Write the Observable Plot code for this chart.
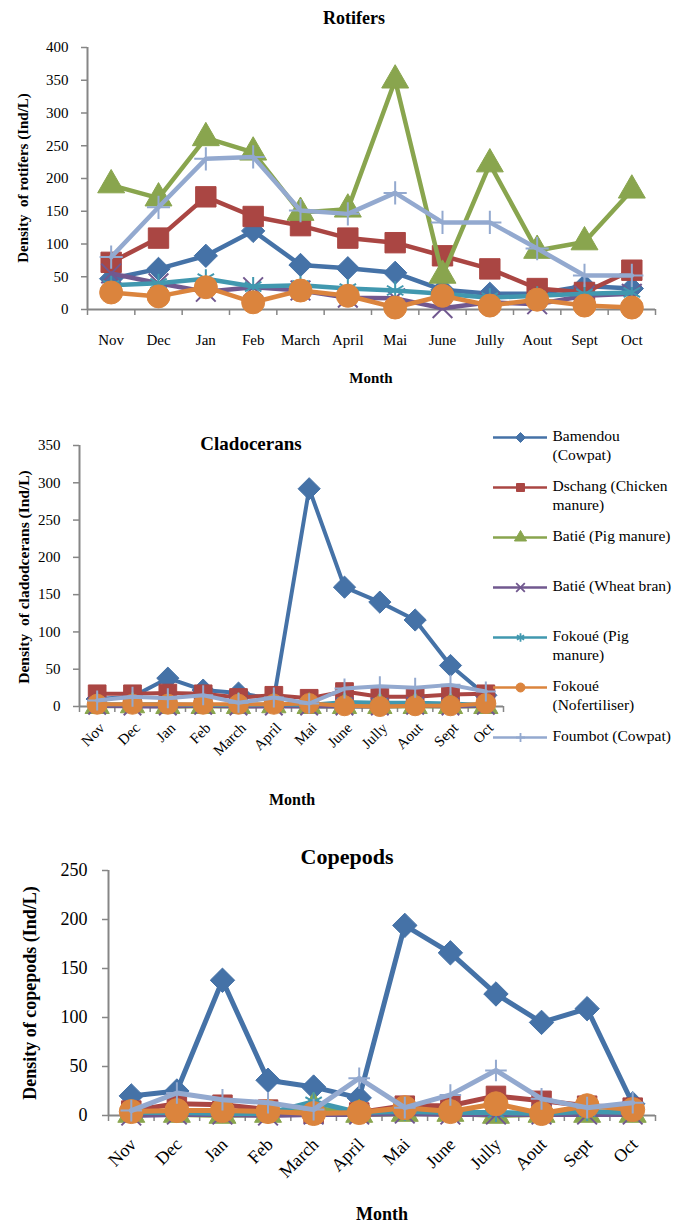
<!DOCTYPE html>
<html>
<head>
<meta charset="utf-8">
<script src="https://cdn.jsdelivr.net/npm/d3@7"></script>
<script src="https://cdn.jsdelivr.net/npm/@observablehq/plot@0.6"></script>
<style>
  body { margin: 0; background: #fff; }
  #root { position: relative; width: 690px; height: 1225px; font-family: 'Liberation Serif', 'Times New Roman', serif; color: #000; overflow: hidden; }
  .abs { position: absolute; left: 0; }
  .lbl { position: absolute; transform: translate(-50%, -50%); white-space: pre; font-weight: bold; line-height: 1; }
  .ylbl { position: absolute; transform: translate(-50%, -50%) rotate(-90deg); white-space: pre; font-weight: bold; line-height: 1; }
</style>
</head>
<body>
<div id="root"></div>
<script>
// ---- Data ----
const months = ["Nov", "Dec", "Jan", "Feb", "March", "April", "Mai", "June", "Jully", "Aout", "Sept", "Oct"];
const sites = ["Bamendou (Cowpat)", "Dschang (Chicken manure)", "Batié (Pig manure)", "Batié (Wheat bran)", "Fokoué (Pig manure)", "Fokoué (Nofertiliser)", "Foumbot (Cowpat)"];
const legendLabels = ["Bamendou\n(Cowpat)", "Dschang (Chicken\nmanure)", "Batié (Pig manure)", "Batié (Wheat bran)", "Fokoué (Pig\nmanure)", "Fokoué\n(Nofertiliser)", "Foumbot (Cowpat)"];
const colors = ["#4572A7", "#AA4643", "#89A54E", "#71588F", "#4198AF", "#DB843D", "#93A9CF"];
const symbols = ["diamond2", "square", "triangle", "times", "asterisk", "circle", "plus"];

// Rotifers (Ind/L), one row per site, in the order of `sites`
const rotifers = [
  [47, 62, 82, 120, 68, 63, 56, 30, 24, 24, 36, 32],
  [72, 109, 172, 142, 128, 109, 102, 82, 62, 32, 26, 60],
  [190, 170, 262, 240, 148, 153, 350, 52, 222, 90, 103, 182],
  [55, 40, 27, 34, 29, 18, 17, 2, 11, 8, 21, 24],
  [37, 40, 47, 35, 37, 32, 29, 24, 18, 21, 24, 26],
  [26, 20, 34, 11, 29, 21, 3, 21, 6, 15, 6, 3],
  [80, 156, 230, 233, 151, 146, 178, 133, 133, 93, 52, 52]
];
// Cladocerans (Ind/L)
const cladocerans = [
  [10, 13, 38, 22, 18, 10, 292, 160, 140, 116, 55, 15],
  [17, 17, 18, 17, 12, 15, 11, 20, 13, 13, 16, 17],
  [0, 1, 0, 0, 0, 1, 0, 0, 0, 0, 0, 0],
  [1, 0, 0, 1, 0, 0, 0, 0, 0, 1, 0, 1],
  [3, 3, 3, 2, 2, 3, 2, 6, 5, 5, 4, 2],
  [3, 3, 3, 3, 3, 3, 4, 1, 0, 1, 1, 4],
  [8, 13, 11, 15, 5, 12, 4, 24, 27, 25, 29, 20]
];
// Copepods (Ind/L)
const copepods = [
  [20, 25, 138, 36, 29, 18, 194, 166, 124, 95, 109, 12],
  [5, 12, 11, 6, 2, 3, 10, 10, 20, 15, 10, 8],
  [1, 1, 0, 1, 8, 1, 2, 2, 0, 1, 1, 1],
  [0, 1, 1, 0, 1, 1, 2, 1, 1, 1, 1, 1],
  [3, 3, 2, 2, 14, 3, 4, 3, 3, 2, 4, 3],
  [4, 5, 5, 4, 2, 3, 8, 4, 12, 2, 10, 6],
  [5, 23, 16, 13, 6, 38, 8, 21, 46, 17, 8, 13]
];

const axisGray = "#868686";
const strokeSymbols = ["times", "asterisk", "plus"];
const root = document.getElementById("root");

function place(node, top, left = 0) {
  const d = document.createElement("div");
  d.className = "abs";
  d.style.top = top + "px";
  d.style.left = left + "px";
  d.appendChild(node);
  root.appendChild(d);
}
function label(text, x, y, size, cls = "lbl") {
  const d = document.createElement("div");
  d.className = cls;
  d.style.left = x + "px";
  d.style.top = y + "px";
  d.style.fontSize = size + "px";
  d.textContent = text;
  root.appendChild(d);
}

function drawChart(o) {
  const marks = [
    Plot.axisY({ticks: d3.range(0, o.yMax + 1, o.yStep), tickSize: 6, tickPadding: o.yPad, stroke: axisGray, strokeWidth: 1.5, fill: "#000", label: null}),
    Plot.axisX({ticks: d3.range(-0.5, months.length, 1), tickSize: 6, tickFormat: () => "", stroke: axisGray, strokeWidth: 1.5, label: null}),
    Plot.axisX({ticks: d3.range(months.length), tickSize: 0, tickPadding: o.xPad, tickRotate: o.rotate, dx: o.xDx, tickFormat: i => months[i], fill: "#000", label: null}),
    Plot.ruleY([0], {stroke: axisGray, strokeWidth: 2}),
    Plot.ruleX([-0.5], {stroke: axisGray, strokeWidth: 2})
  ];
  o.values.forEach((vals, s) => {
    const pts = vals.map((v, i) => ({i, v}));
    const isStroke = strokeSymbols.includes(symbols[s]);
    marks.push(Plot.line(pts, {x: "i", y: "v", stroke: colors[s], strokeWidth: o.lw, strokeLinejoin: "round", strokeLinecap: "round"}));
    marks.push(Plot.dot(pts, {
      x: "i", y: "v", symbol: symbols[s], r: o.r[s],
      fill: isStroke ? "none" : colors[s], stroke: colors[s], strokeWidth: isStroke ? 2 : 1
    }));
  });
  return Plot.plot({
    width: 690, height: o.height,
    marginTop: o.mt, marginBottom: o.mb, marginLeft: o.ml, marginRight: o.mr,
    x: {domain: [-0.5, months.length - 0.5]},
    y: {domain: [0, o.yMax]},
    style: {fontFamily: "'Liberation Serif', 'Times New Roman', serif", fontSize: o.font + "px", background: "transparent", color: "#000", overflow: "visible"},
    marks
  });
}

// Rotifers
place(drawChart({values: rotifers, yMax: 400, yStep: 50, height: 360, mt: 47, mb: 51, ml: 87, mr: 35,
  font: 15, lw: 4.5, r: [10.5, 11.5, 10, 9, 9, 11.5, 7.5], yPad: 13, xPad: 25, rotate: 0, xDx: 0}), 0);
label("Rotifers", 354, 18, 18);
label("Density  of rotifers (Ind/L)", 23, 178, 15, "ylbl");
label("Month", 371, 378, 15);

// Cladocerans
place(drawChart({values: cladocerans, yMax: 350, yStep: 50, height: 360, mt: 45, mb: 54, ml: 79, mr: 187,
  font: 15, lw: 4, r: [10, 10, 9, 8, 8, 10, 6.5], yPad: 13, xPad: 19, rotate: -45, xDx: 5}), 400);
label("Cladocerans", 251, 443, 19);
label("Density  of cladodcerans (Ind/L)", 24, 577, 15.5, "ylbl");
label("Month", 292, 800, 16);

// Copepods
place(drawChart({values: copepods, yMax: 250, yStep: 50, height: 360, mt: 50, mb: 65, ml: 108, mr: 35,
  font: 18, lw: 5, r: [11, 11, 10, 9, 9, 12, 7], yPad: 15, xPad: 26, rotate: -45, xDx: 2}), 820);
label("Copepods", 347, 857, 22);
label("Density of copepods (Ind/L)", 30, 993, 18, "ylbl");
label("Month", 382, 1214, 18);

// Legend (beside the Cladocerans chart)
const idx = d3.range(sites.length);
const legendR = [4.5, 4.5, 4.5, 4, 4, 4.5, 3];
const legendMarks = [
  Plot.ruleY(idx, {y: d => d, x1: 13, x2: 67, stroke: d => colors[d], strokeWidth: 2.5})
];
idx.forEach(s => {
  const isStroke = strokeSymbols.includes(symbols[s]);
  legendMarks.push(Plot.dot([s], {y: d => d, x: 40, symbol: symbols[s], r: legendR[s],
    fill: isStroke ? "none" : colors[s], stroke: colors[s], strokeWidth: isStroke ? 1.8 : 1}));
});
legendMarks.push(Plot.text(idx, {y: d => d, x: 72, text: d => legendLabels[d], textAnchor: "start", lineAnchor: "top", dy: -9, lineHeight: 1.17, fontSize: 15.5, fill: "#000"}));
place(Plot.plot({
  width: 210, height: 340, margin: 0,
  x: {type: "identity", axis: null},
  y: {type: "point", domain: idx, range: [17, 317], padding: 0, axis: null},
  style: {fontFamily: "'Liberation Serif', 'Times New Roman', serif", background: "transparent", overflow: "visible"},
  marks: legendMarks
}), 420, 480);
</script>
</body>
</html>
